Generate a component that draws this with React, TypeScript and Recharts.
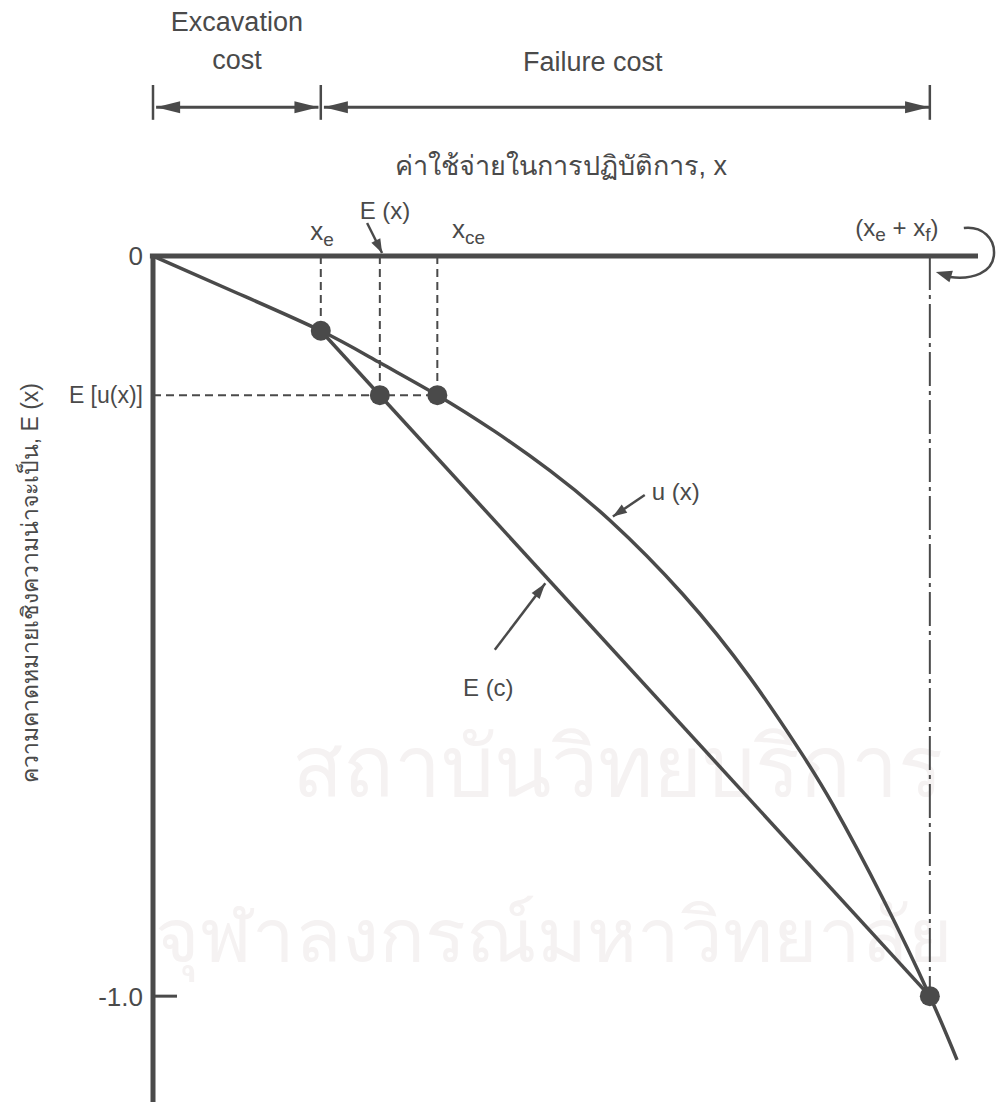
import React from "react";
import {
  ComposedChart,
  Line,
  Scatter,
  XAxis,
  YAxis,
  ReferenceLine,
  ReferenceDot,
} from "recharts";

const FONT = '"Liberation Sans", Arial, "Noto Sans", sans-serif';
const INK = "#4a4a4a";

// cost axis: 0 .. (xe + xf) = 1.0, utility axis: 0 .. -1.0
const X_E = 0.216;
const X_EX = 0.292; // E(x)
const X_CE = 0.366; // certainty equivalent
const X_TOTAL = 1.0;
const U_XE = -0.101;
const E_U = -0.188; // E[u(x)]

const utilityX = [0, 0.108, 0.216, 0.29, 0.366, 0.44, 0.511, 0.588, 0.682, 0.768, 0.833, 0.875, 0.94, 1.0, 1.035];
const utilityY = [0, -0.05, -0.101, -0.143, -0.188, -0.237, -0.29, -0.357, -0.457, -0.569, -0.669, -0.741, -0.869, -1.0, -1.086];

const chordX = [X_E, X_TOTAL];
const chordY = [U_XE, -1.0];

const markerX = [X_E, X_EX, X_CE, X_TOTAL];
const markerY = [U_XE, E_U, E_U, -1.0];

const yTicks = [0, E_U, -1.0];
const yTickLabels = ["0", "E [u(x)]", "-1.0"];

const utilityData = utilityX.map((x, i) => ({ x, u: utilityY[i] }));
const chordData = chordX.map((x, i) => ({ x, e: chordY[i] }));
const markerData = markerX.map((x, i) => ({ x, y: markerY[i] }));

function arrowHead(x1: number, y1: number, x2: number, y2: number, len = 20, half = 6) {
  const a = Math.atan2(y2 - y1, x2 - x1);
  const bx = x2 - len * Math.cos(a);
  const by = y2 - len * Math.sin(a);
  const nx = -Math.sin(a) * half;
  const ny = Math.cos(a) * half;
  return `${x2},${y2} ${bx + nx},${by + ny} ${bx - nx},${by - ny}`;
}

const arrowShape =
  (start: boolean, end: boolean, width = 3, len = 20, half = 6) =>
  (p: any) =>
    (
      <g>
        <line x1={p.x1} y1={p.y1} x2={p.x2} y2={p.y2} stroke={INK} strokeWidth={width} />
        {end && <polygon points={arrowHead(p.x1, p.y1, p.x2, p.y2, len, half)} fill={INK} />}
        {start && <polygon points={arrowHead(p.x2, p.y2, p.x1, p.y1, len, half)} fill={INK} />}
      </g>
    );

function UtilityTick(props: any) {
  const { x, y, payload } = props;
  const i = yTicks.indexOf(payload.value);
  const label = yTickLabels[i] ?? "";
  return (
    <g>
      <text x={x} y={y} dy="0.36em" textAnchor="end" fontSize={label === "E [u(x)]" ? 23 : 26} fill={INK} fontFamily={FONT}>
        {label}
      </text>
      {payload.value === -1.0 && <line x1={x + 10} y1={y} x2={x + 34} y2={y} stroke={INK} strokeWidth={3} />}
    </g>
  );
}

// plain text placed at a data position
const note = (key: string, x: number, y: number, content: React.ReactNode, extra: any = {}) => (
  <ReferenceDot
    key={key}
    x={x}
    y={y}
    r={0}
    ifOverflow="visible"
    shape={(p: any) => (
      <text x={p.cx} y={p.cy} fill={INK} fontFamily={FONT} fontSize={24} {...extra}>
        {content}
      </text>
    )}
  />
);

function Watermark() {
  const common: React.CSSProperties = {
    position: "absolute",
    whiteSpace: "nowrap",
    color: "#f5f2f2",
    fontFamily: '"Noto Sans", sans-serif',
    lineHeight: 1,
  };
  return (
    <>
      <div style={{ ...common, left: 292, top: 722, fontSize: 84 }}>สถาบันวิทยบริการ</div>
      <div style={{ ...common, left: 155, top: 895, fontSize: 76 }}>จุฬาลงกรณ์มหาวิทยาลัย</div>
    </>
  );
}

export default function App() {
  return (
    <div style={{ position: "absolute", left: 0, top: 0, width: 997, height: 1102, background: "#fff", overflow: "hidden" }}>
      <Watermark />
      <div style={{ position: "absolute", left: 0, top: 0 }}>
        <ComposedChart width={997} height={1102} margin={{ top: 256, right: 19, bottom: 0, left: 0 }}>
          <XAxis type="number" dataKey="x" domain={[0, 1.062]} hide allowDataOverflow />
          <YAxis
            type="number"
            domain={[-1.143, 0]}
            ticks={yTicks}
            interval={0}
            width={153}
            axisLine={false}
            tickLine={false}
            tickSize={0}
            tickMargin={10}
            tick={<UtilityTick />}
            allowDataOverflow
          />

          {/* guide lines */}
          <ReferenceLine segment={[{ x: X_E, y: 0 }, { x: X_E, y: U_XE }]} stroke={INK} strokeWidth={2} strokeDasharray="8 5" ifOverflow="visible" />
          <ReferenceLine segment={[{ x: X_EX, y: 0 }, { x: X_EX, y: E_U }]} stroke={INK} strokeWidth={2} strokeDasharray="8 5" ifOverflow="visible" />
          <ReferenceLine segment={[{ x: X_CE, y: 0 }, { x: X_CE, y: E_U }]} stroke={INK} strokeWidth={2} strokeDasharray="8 5" ifOverflow="visible" />
          <ReferenceLine segment={[{ x: 0, y: E_U }, { x: X_CE, y: E_U }]} stroke={INK} strokeWidth={2} strokeDasharray="8 5" ifOverflow="visible" />
          <ReferenceLine segment={[{ x: X_TOTAL, y: 0 }, { x: X_TOTAL, y: -1.0 }]} stroke={INK} strokeWidth={2} strokeDasharray="34 5 4 5" ifOverflow="visible" />

          {/* axes */}
          <ReferenceLine segment={[{ x: -0.004, y: 0 }, { x: 1.062, y: 0 }]} stroke={INK} strokeWidth={5} ifOverflow="visible" />
          <ReferenceLine segment={[{ x: 0, y: 0 }, { x: 0, y: -1.143 }]} stroke={INK} strokeWidth={5} ifOverflow="visible" />

          <Line data={utilityData} dataKey="u" type="natural" stroke={INK} strokeWidth={3.5} dot={false} isAnimationActive={false} />
          <Line data={chordData} dataKey="e" type="linear" stroke={INK} strokeWidth={3.5} dot={false} isAnimationActive={false} />
          <Scatter
            data={markerData}
            dataKey="y"
            isAnimationActive={false}
            shape={(p: any) => <circle cx={p.cx} cy={p.cy} r={10} fill={INK} />}
          />

          {/* cost split above the chart */}
          <ReferenceLine segment={[{ x: 0, y: 0.231 }, { x: 0, y: 0.184 }]} stroke={INK} strokeWidth={2.5} ifOverflow="visible" />
          <ReferenceLine segment={[{ x: X_E, y: 0.231 }, { x: X_E, y: 0.184 }]} stroke={INK} strokeWidth={2.5} ifOverflow="visible" />
          <ReferenceLine segment={[{ x: X_TOTAL, y: 0.231 }, { x: X_TOTAL, y: 0.184 }]} stroke={INK} strokeWidth={2.5} ifOverflow="visible" />
          <ReferenceLine segment={[{ x: 0.004, y: 0.201 }, { x: X_E - 0.003, y: 0.201 }]} ifOverflow="visible" shape={arrowShape(true, true, 3, 24, 6)} />
          <ReferenceLine segment={[{ x: X_E + 0.004, y: 0.201 }, { x: X_TOTAL - 0.001, y: 0.201 }]} ifOverflow="visible" shape={arrowShape(true, true, 3, 24, 6)} />

          {/* pointers */}
          <ReferenceLine segment={[{ x: 0.2756, y: 0.0446 }, { x: 0.2949, y: 0.004 }]} ifOverflow="visible" shape={arrowShape(false, true, 2.5, 14, 5)} />
          <ReferenceLine segment={[{ x: 0.633, y: -0.323 }, { x: 0.592, y: -0.352 }]} ifOverflow="visible" shape={arrowShape(false, true, 2.5, 14, 5)} />
          <ReferenceLine segment={[{ x: 0.44, y: -0.532 }, { x: 0.505, y: -0.442 }]} ifOverflow="visible" shape={arrowShape(false, true, 2.5, 16, 5)} />
          <ReferenceDot
            x={X_TOTAL}
            y={0}
            r={0}
            ifOverflow="visible"
            shape={(p: any) => {
              const cx = p.cx;
              const cy = p.cy;
              return (
                <g>
                  <path
                    d={`M ${cx + 34} ${cy - 28} C ${cx + 52} ${cy - 30}, ${cx + 66} ${cy - 18}, ${cx + 64} ${cy} C ${cx + 62} ${cy + 16}, ${cx + 44} ${cy + 24}, ${cx + 20} ${cy + 21}`}
                    fill="none"
                    stroke={INK}
                    strokeWidth={2.5}
                  />
                  <polygon points={arrowHead(cx + 26, cy + 22, cx + 6, cy + 16, 16, 6)} fill={INK} />
                </g>
              );
            }}
          />

          {note("exc1", 0.108, 0.304, "Excavation", { textAnchor: "middle", fontSize: 27 })}
          {note("exc2", 0.108, 0.253, "cost", { textAnchor: "middle", fontSize: 27 })}
          {note("fail", 0.566, 0.25, "Failure cost", { textAnchor: "middle", fontSize: 27 })}
          {note("title", 0.525, 0.11, "ค่าใช้จ่ายในการปฏิบัติการ, x", { textAnchor: "middle", fontSize: 27 })}
          {note(
            "xe",
            0.2176,
            0.0216,
            <>
              x<tspan fontSize={19} dy={6}>e</tspan>
            </>,
            { textAnchor: "middle", fontSize: 26 }
          )}
          {note("ex", 0.266, 0.05, "E (x)")}
          {note(
            "xce",
            0.385,
            0.024,
            <>
              x<tspan fontSize={19} dy={6}>ce</tspan>
            </>,
            { fontSize: 26 }
          )}
          {note(
            "xtot",
            0.904,
            0.027,
            <>
              (x<tspan fontSize={19} dy={5}>e</tspan>
              <tspan dy={-5}> + x</tspan>
              <tspan fontSize={19} dy={5}>f</tspan>
              <tspan dy={-5}>)</tspan>
            </>,
            { fontSize: 24 }
          )}
          {note("ux", 0.642, -0.33, "u (x)")}
          {note("ec", 0.399, -0.595, "E (c)")}
          <ReferenceDot
            x={-0.158}
            y={-0.442}
            r={0}
            ifOverflow="visible"
            shape={(p: any) => (
              <text
                x={p.cx}
                y={p.cy}
                transform={`rotate(-90 ${p.cx} ${p.cy})`}
                textAnchor="middle"
                dominantBaseline="central"
                fill={INK}
                fontFamily={FONT}
                fontSize={23}
              >
                ความคาดหมายเชิงความน่าจะเป็น, E (x)
              </text>
            )}
          />
        </ComposedChart>
      </div>
    </div>
  );
}
